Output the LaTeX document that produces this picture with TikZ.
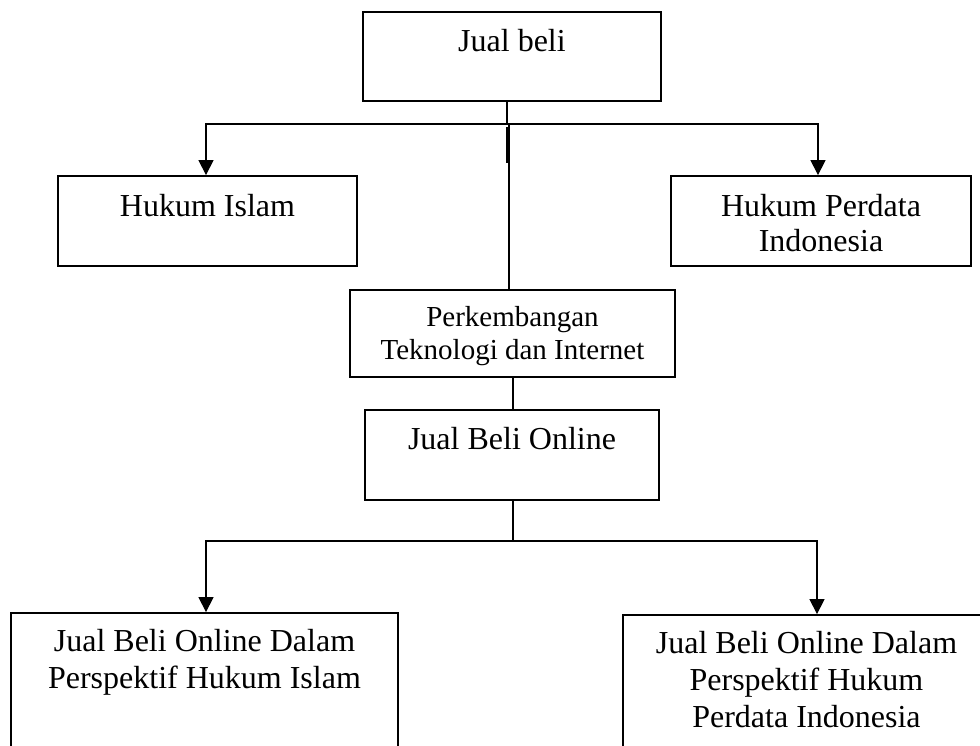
\documentclass[tikz,border=0pt]{standalone}
\usepackage{fontspec}
\setmainfont{Liberation Serif}
\usetikzlibrary{arrows.meta}
\begin{document}
\begin{tikzpicture}[x=1pt,y=-1pt,
  box/.style={draw, line width=1.8pt, inner sep=0pt},
  txt/.style={anchor=base, inner sep=0pt, align=center, font=\fontsize{32}{37}\selectfont},
  txtsmall/.style={anchor=base, inner sep=0pt, align=center, font=\fontsize{29}{33}\selectfont},
  conn/.style={line width=1.2pt},
  arr/.style={conn, -{Triangle[width=15pt,length=15pt]}}]
\useasboundingbox (0,0) rectangle (980,745);
\clip (0,0) rectangle (980,745);
% boxes
\node[box, minimum width=298pt, minimum height=89pt] (jb) at (512,56.5) {};
\node[box, minimum width=299pt, minimum height=90pt] (hi) at (207.5,221) {};
\node[box, minimum width=300pt, minimum height=90pt] (hp) at (821,221) {};
\node[box, minimum width=325pt, minimum height=87pt] (pk) at (512.5,333.5) {};
\node[box, minimum width=294pt, minimum height=90pt] (jbo) at (512,455) {};
\node[box, minimum width=387pt, minimum height=147pt] (bl) at (204.5,686.5) {};
\node[box, minimum width=367pt, minimum height=145pt] (br) at (806.5,687.5) {};
% texts (base anchor = last line baseline)
\node[txt] at ([yshift=-40pt]jb.north) {Jual beli};
\node[txt] at ([yshift=-41pt]hi.north) {Hukum Islam};
\node[txt, font=\fontsize{32}{35}\selectfont] at ([yshift=-76pt]hp.north) {Hukum Perdata\\Indonesia};
\node[txtsmall] at ([yshift=-70pt]pk.north) {Perkembangan\\Teknologi dan Internet};
\node[txt] at ([yshift=-40pt]jbo.north) {Jual Beli Online};
\node[txt] at ([yshift=-76pt]bl.north) {Jual Beli Online Dalam\\Perspektif Hukum Islam};
\node[txt] at ([yshift=-113pt]br.north) {Jual Beli Online Dalam\\Perspektif Hukum\\Perdata Indonesia};
% connectors
\coordinate (j1) at (507,124);
\coordinate (j2) at (513,541);
\draw[conn] ([xshift=-5pt]jb.south) -- (j1);
\draw[arr] (j1) -| ([xshift=-1.5pt]hi.north);
\draw[arr] (j1) -| ([xshift=-3pt]hp.north);
\draw[line width=2.2pt] ([yshift=-3pt]j1) -- ++(0,36);
\draw[conn] ([xshift=2pt]j1) -- ([xshift=2pt]j1 |- pk.north);
\draw[conn] ([xshift=0.5pt]pk.south) -- ([xshift=0.5pt]pk.south |- jbo.north);
\draw[conn] ([xshift=1pt]jbo.south) -- (j2);
\draw[arr] (j2) -| ([xshift=1.5pt]bl.north);
\draw[arr] (j2) -| ([xshift=10.5pt]br.north);
\end{tikzpicture}
\end{document}
